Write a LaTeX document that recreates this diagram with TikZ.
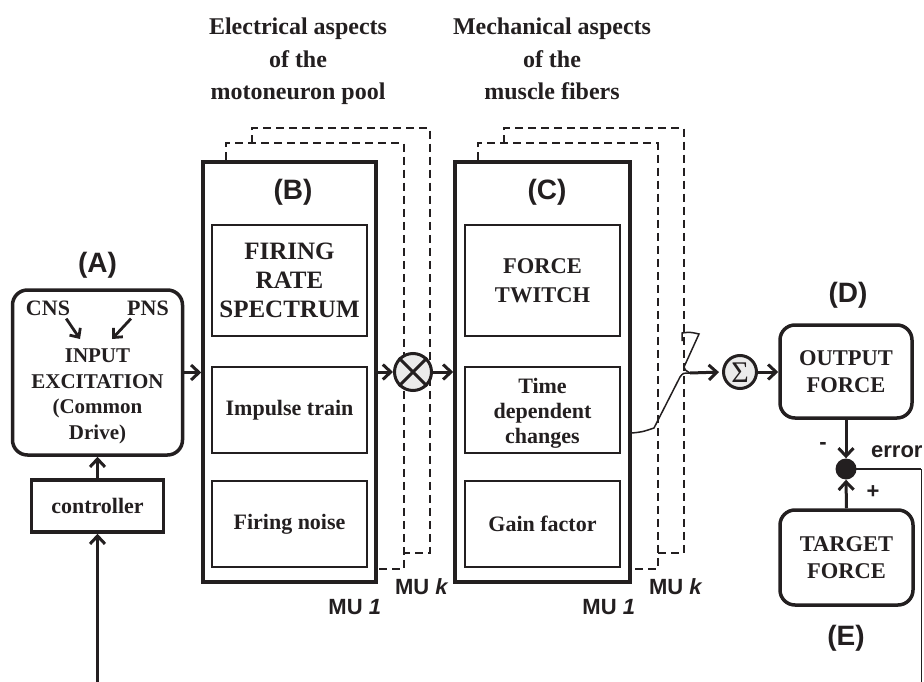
\documentclass[tikz,border=0pt]{standalone}
\usepackage{fontspec}
\setmainfont{Liberation Serif}
\setsansfont{Liberation Sans}
\usetikzlibrary{arrows.meta,calc}
\definecolor{ink}{HTML}{231F20}
\definecolor{opfill}{HTML}{EBEBEB}

\begin{document}
\begin{tikzpicture}[x=1pt,y=-1pt,
  every node/.style={text=ink},
  frame/.style={draw=ink, line width=3.5pt, inner sep=0pt},
  inner/.style={draw=ink, line width=2.5pt, minimum width=155pt, inner sep=0pt,
    align=center, font=\bfseries\fontsize{22}{29}\selectfont},
  rbox/.style={draw=ink, line width=3.5pt, rounded corners=15pt, inner sep=0pt,
    align=center, font=\bfseries\fontsize{22.5}{27}\selectfont},
  arr/.style={draw=ink, line width=3pt, -{Straight Barb[length=8pt,width=15pt]}},
  thinarr/.style={draw=ink, line width=2.8pt, -{Straight Barb[length=7pt,width=13pt]}},
  dashframe/.style={draw=ink, line width=2pt, dash pattern=on 8pt off 5pt},
  lab/.style={font=\sffamily\bfseries\fontsize{28}{28}\selectfont},
  mu/.style={font=\sffamily\bfseries\fontsize{22}{22}\selectfont},
  sgn/.style={font=\sffamily\bfseries\fontsize{22}{22}\selectfont},
  head/.style={font=\bfseries\fontsize{24}{32.5}\selectfont, align=center, inner sep=0pt, anchor=north},
  op/.style={circle, draw=ink, line width=3pt, fill=opfill, inner sep=0pt}
]
\useasboundingbox (0,0) rectangle (924,682);

% column headings
\node[head] (hB) at (298,18) {Electrical aspects\\of the\\motoneuron pool};
\node[head] (hC) at (552,18) {Mechanical aspects\\of the\\muscle fibers};

% (A) input excitation
\node[rbox, minimum width=170pt, minimum height=165pt] (A) at (97.5,372.5) {};
\node[lab] (lA) at (97.5,265) {(A)};
\node[font=\bfseries\fontsize{22}{22}\selectfont, inner sep=0pt] (cns) at (48,308) {CNS};
\node[font=\bfseries\fontsize{22}{22}\selectfont, inner sep=0pt] (pns) at (148,308) {PNS};
\node[font=\bfseries\fontsize{21}{25.5}\selectfont, align=center, inner sep=0pt, anchor=north]
  (Atext) at (97.5,349) {INPUT\\EXCITATION\\(Common\\Drive)};
\draw[thinarr] (cns.south east) ++(-4,3) coordinate (c0) -- (80,339) coordinate (c1);
\draw[thinarr] (pns.south west) ++(4,3) coordinate (p0) -- (112,339) coordinate (p1);

% controller and its input
\node[draw=ink, line width=3.5pt, minimum width=132pt, minimum height=52pt, inner sep=0pt,
  font=\bfseries\fontsize{22}{22}\selectfont] (ctrl) at (97.5,506) {controller};
\coordinate (in) at (97.5,682);
\draw[arr] (in) -- (ctrl.south);
\draw[arr] (ctrl.north) -- (A.south);

% (B) motoneuron pool
\node[frame, minimum width=173pt, minimum height=420pt] (B) at (289.5,372) {};
\node[lab] (lB) at (293,192) {(B)};
\node[inner, minimum height=111pt, font=\bfseries\fontsize{25}{29}\selectfont] (B1) at (289.5,280.5) {FIRING\\RATE\\SPECTRUM};
\node[inner, minimum height=86pt] (B2) at (289.5,410) {Impulse train};
\node[inner, minimum height=86pt] (B3) at (289.5,524) {Firing noise};

% (C) muscle fibers
\node[frame, minimum width=175pt, minimum height=420pt] (C) at (542.5,372) {};
\node[lab] (lC) at (547,192) {(C)};
\node[inner, minimum height=111pt, font=\bfseries\fontsize{22.5}{28.5}\selectfont] (C1) at (542.5,280.5) {FORCE\\TWITCH};
\node[inner, minimum height=86pt] (C2) at (542.5,410) {};
\node[font=\bfseries\fontsize{22}{25}\selectfont, align=center, inner sep=0pt]
  (C2t) at (542.5,413) {Time\\dependent\\changes};
\node[inner, minimum height=86pt] (C3) at (542.5,524) {Gain factor};

% stacked copies for the other motor units
\foreach \b in {B,C} {
  \draw[dashframe] ([xshift=25pt]\b.north west) -- ([xshift=25pt,yshift=17pt]\b.north west)
    -- ([xshift=26pt,yshift=17pt]\b.north east) -- ([xshift=26pt,yshift=15pt]\b.south east)
    -- ([yshift=15pt]\b.south east);
  \draw[dashframe] ([xshift=51pt,yshift=17pt]\b.north west) -- ([xshift=51pt,yshift=32pt]\b.north west)
    -- ([xshift=52pt,yshift=32pt]\b.north east) -- ([xshift=52pt,yshift=31pt]\b.south east)
    -- ([xshift=26pt,yshift=31pt]\b.south east);
  \node[mu] at ([xshift=-23pt,yshift=-23pt]\b.south east) {MU \textit{1}};
  \node[mu] at ([xshift=44pt,yshift=-3pt]\b.south east) {MU \textit{k}};
}

% multiplier
\node[op, minimum size=37pt] (mult) at (413,372) {};
\draw[ink, line width=3pt] (mult.north west) -- (mult.south east)
  (mult.north east) -- (mult.south west);

% summation
\node[op, minimum size=33pt, font=\fontsize{30}{30}\selectfont] (sum) at (740,372) {};
\node[font=\fontsize{30}{30}\selectfont, inner sep=0pt] (sumt) at (740,373) {Σ};

% (D) output force
\node[rbox, minimum width=132pt, minimum height=93pt] (D) at (846,371.5) {OUTPUT\\FORCE};
\node[lab] (lD) at (848,295) {(D)};

% error junction
\node[circle, fill=ink, minimum size=21pt, inner sep=0pt] (dot) at (846,469) {};

% (E) target force
\node[rbox, minimum width=133pt, minimum height=95pt] (E) at (846.5,557.5) {TARGET\\FORCE};
\node[lab] (lE) at (846,638) {(E)};

% signal flow
\draw[arr] (A.east) -- (A.east -| B.west);
\draw[arr] (B.east) -- (mult.west);
\draw[arr] (mult.east) -- (mult.east -| C.west);

% hand-drawn link from the muscle fibers to the summation
\coordinate (t0) at ([yshift=-61pt]C.east);
\coordinate (t1) at (654,428);
\coordinate (t2) at (680,377);
\coordinate (t3) at (690,373);
\coordinate (z0) at (682,341);
\coordinate (z1) at (682,333);
\coordinate (z2) at (699,334);
\coordinate (z3) at (684,367);
\draw[ink, line width=1.5pt] (t0) .. controls (642,432) .. (t1) -- (t2) .. controls (683,373) .. (t3);
\draw[ink, line width=1.5pt] (z0) -- (z1) .. controls (690,332) .. (z2) -- (z3) .. controls (685,370) .. (t3);
\draw[arr, shorten >=3pt] (t3) -- (sum.west);
\draw[arr] (sum.east) -- (sum.east -| D.west);

% feedback
\draw[arr] (D.south) -- (dot.north);
\draw[arr] (E.north) -- (dot.south);
\coordinate (fb) at (921,469);
\coordinate (fbend) at (921,682);
\draw[ink, line width=2.2pt] (dot.center) -- (fb);
\draw[ink, line width=1pt] (fb) -- (fbend);
\node[sgn] (minus) at (823,446) {-};
\node[sgn] (plus) at (873,492) {+};
\node[sgn, anchor=west, inner sep=0pt] (err) at (871,452) {error};
\end{tikzpicture}
\end{document}
